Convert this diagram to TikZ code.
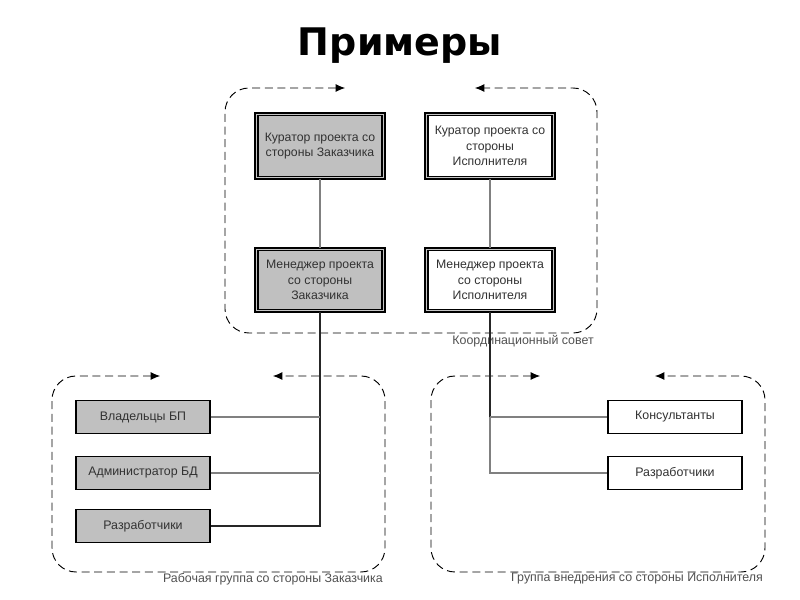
\documentclass[tikz,border=0pt]{standalone}
\usepackage{fontspec}
\setmainfont{Liberation Sans}
\newfontfamily\titlefont{DejaVu Sans}
\usetikzlibrary{arrows.meta}
\definecolor{boxgray}{RGB}{192,192,192}
\definecolor{txtgray}{RGB}{50,50,50}
\definecolor{lblgray}{RGB}{80,80,80}
\begin{document}
\begin{tikzpicture}[x=0.75pt,y=-0.75pt,
  topbox/.style={draw=black, line width=1.2pt, double=gray!45, double distance=0.9pt,
    minimum width=97.5pt-2.2pt, minimum height=50pt-2.2pt, inner sep=2pt,
    align=center, font=\fontsize{9.2}{11.5}\selectfont, text=txtgray},
  botbox/.style={draw=black, line width=0.9pt, minimum width=100.5pt, minimum height=25pt,
    font=\fontsize{9.3}{11}\selectfont, text=txtgray},
  grp/.style={dashed, dash pattern=on 6pt off 3.5pt, line width=0.7pt, rounded corners=18pt,
    {Latex[length=7pt,width=6pt]}-{Latex[length=7pt,width=6pt]}},
  grplbl/.style={anchor=east, font=\fontsize{9.3}{10}\selectfont, text=lblgray, inner sep=0pt},
  thin/.style={draw=gray, line width=0.8pt},
  thick/.style={draw=black!85, line width=1pt}]
\useasboundingbox (0,0) rectangle (800,600);

\node[font=\titlefont\bfseries\fontsize{28.5}{32}\selectfont] (title) at (400,46) {Примеры};

% top group
\draw[grp] (345,88) -- (225,88) -- (225,333) -- (597,333) -- (597,88) -- (475,88);
\node[grplbl] (lbl1) at (594,341) {Координационный совет};

\node[topbox, fill=boxgray] (k1) at (320,146) {Куратор проекта со\\стороны Заказчика};
\node[topbox, fill=white] (k2) at (490,146) {Куратор проекта со\\стороны\\Исполнителя};
\node[topbox, fill=boxgray, minimum height=48.5pt-2.2pt] (m1) at (320,280) {Менеджер проекта\\со стороны\\Заказчика};
\node[topbox, fill=white, minimum height=48.5pt-2.2pt] (m2) at (490,280) {Менеджер проекта\\со стороны\\Исполнителя};

\draw[thin] (k1.south) -- (m1.north);
\draw[thin] (k2.south) -- (m2.north);

% lower left group
\draw[grp] (160,376) -- (52,376) -- (52,572) -- (385,572) -- (385,376) -- (273,376);
\node[grplbl] (lbl2) at (383,579) {Рабочая группа со стороны Заказчика};

\node[botbox, fill=boxgray] (v1) at (143,417) {Владельцы БП};
\node[botbox, fill=boxgray] (a1) at (143,473) {Администратор БД};
\node[botbox, fill=boxgray] (r1) at (143,526) {Разработчики};

% lower right group
\draw[grp] (540,376) -- (431,376) -- (431,572) -- (765,572) -- (765,376) -- (655,376);
\node[grplbl] (lbl3) at (763,579) {Группа внедрения со стороны Исполнителя};

\node[botbox, fill=white] (c2) at (675,417) {Консультанты};
\node[botbox, fill=white] (r2) at (675,473) {Разработчики};

% connectors
\coordinate (jl1) at (m1.south |- v1.east);
\coordinate (jl2) at (m1.south |- a1.east);
\coordinate (jl3) at (m1.south |- r1.east);
\draw[thick] (m1.south) -- (jl3) -- (r1.east);
\draw[thin] (v1.east) -- (jl1);
\draw[thin] (a1.east) -- (jl2);

\coordinate (jr1) at (m2.south |- c2.west);
\coordinate (jr2) at (m2.south |- r2.west);
\draw[thick] (m2.south) -- (jr1);
\draw[thin] (jr1) -- (c2.west);
\draw[thin] (jr1) -- (jr2) -- (r2.west);
\end{tikzpicture}
\end{document}
